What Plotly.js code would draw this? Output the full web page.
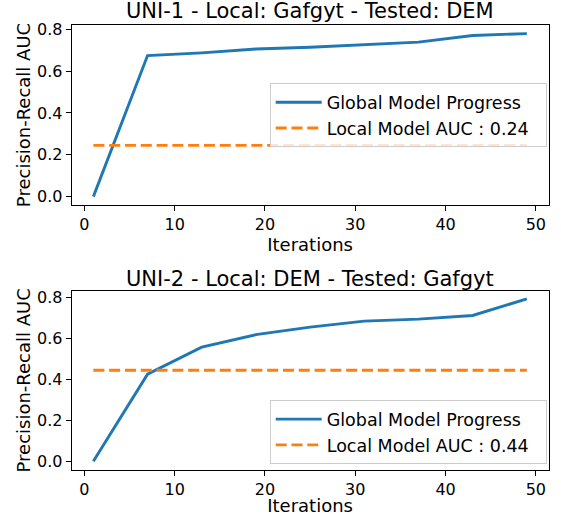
<!DOCTYPE html>
<html>
<head>
<meta charset="utf-8">
<script src="https://cdn.plot.ly/plotly-3.0.1.min.js"></script>
<style>html,body{margin:0;padding:0;background:#fff;}#chart{width:561px;height:516px;}</style>
</head>
<body>
<div id="chart"></div>
<script>
const iterations = [1, 7, 13, 19, 25, 31, 37, 43, 49];
const uni1Global = [0.0, 0.674, 0.687, 0.705, 0.714, 0.725, 0.738, 0.770, 0.779];
const uni2Global = [0.0, 0.426, 0.558, 0.619, 0.656, 0.685, 0.695, 0.713, 0.794];
const uni1Local = 0.245;
const uni2Local = 0.445;
const uni1LocalLabel = "Local Model AUC : 0.24";
const uni2LocalLabel = "Local Model AUC : 0.44";
const globalLabel = "Global Model Progress";
const titles = ["UNI-1 - Local: Gafgyt - Tested: DEM", "UNI-2 - Local: DEM - Tested: Gafgyt"];
const xTitle = "Iterations";
const yTitle = "Precision-Recall AUC";

const W = 561, H = 516;
const FONT = "DejaVu Sans, sans-serif";
const blue = "#1f77b4", orange = "#ff7f0e";
const PAD = "\u00a0\u00a0";

const first = iterations[0], last = iterations[iterations.length - 1];

const traces = [
  {x: iterations, y: uni1Global, xaxis: "x", yaxis: "y", mode: "lines", name: globalLabel + PAD,
   line: {color: blue, width: 2.9}, legend: "legend"},
  {x: [first, last], y: [uni1Local, uni1Local], xaxis: "x", yaxis: "y", mode: "lines", name: uni1LocalLabel + PAD,
   line: {color: orange, width: 2.9, dash: "11px,4.8px"}, legend: "legend"},
  {x: iterations, y: uni2Global, xaxis: "x2", yaxis: "y2", mode: "lines", name: globalLabel + PAD,
   line: {color: blue, width: 2.9}, legend: "legend2"},
  {x: [first, last], y: [uni2Local, uni2Local], xaxis: "x2", yaxis: "y2", mode: "lines", name: uni2LocalLabel + PAD,
   line: {color: orange, width: 2.9, dash: "11px,4.8px"}, legend: "legend2"}
];

function xax(anchor) {
  return {
    domain: [71.7 / W, 548.5 / W], anchor: anchor, range: [-1.4, 51.4],
    tickvals: [0, 10, 20, 30, 40, 50], ticks: "outside", ticklen: 5, tickwidth: 1, tickcolor: "#000",
    showline: true, linecolor: "#000", linewidth: 1, mirror: true, showgrid: false, zeroline: false,
    tickfont: {family: FONT, size: 16, color: "#000"},
    title: {text: xTitle, font: {family: FONT, size: 18, color: "#000"}, standoff: 2},
    automargin: false
  };
}
function yax(domain, anchor, range) {
  return {
    domain: domain, anchor: anchor, range: range,
    tickvals: [0, 0.2, 0.4, 0.6, 0.8], tickformat: ".1f", ticks: "outside", ticklen: 5, tickwidth: 1, tickcolor: "#000",
    showline: true, linecolor: "#000", linewidth: 1, mirror: true, showgrid: false, zeroline: false,
    tickfont: {family: FONT, size: 16, color: "#000"},
    title: {text: yTitle, font: {family: FONT, size: 18, color: "#000"}, standoff: 1},
    automargin: false
  };
}

const legendCommon = {
  xref: "paper", yref: "paper", xanchor: "right", x: 546.7 / W, yanchor: "middle",
  bgcolor: "rgba(255,255,255,0.8)", bordercolor: "#cccccc", borderwidth: 1,
  font: {family: FONT, size: 17.5, color: "#000"}, itemwidth: 46, tracegroupgap: 0
};

const layout = {
  width: W, height: H,
  margin: {l: 0, r: 0, t: 0, b: 0},
  paper_bgcolor: "#fff", plot_bgcolor: "#fff",
  font: {family: FONT, color: "#000"},
  showlegend: true,
  xaxis: xax("y"),
  yaxis: yax([(H - 205) / H, (H - 25) / H], "x", [-0.04, 0.82]),
  xaxis2: xax("y2"),
  yaxis2: yax([(H - 470) / H, (H - 290.7) / H], "x2", [-0.043, 0.834]),
  legend: Object.assign({}, legendCommon, {y: (H - 115.4) / H}),
  legend2: Object.assign({}, legendCommon, {y: (H - 432.2) / H}),
  annotations: [
    {text: titles[0], xref: "paper", yref: "paper", x: 310 / W, y: (H - 25) / H, xanchor: "center", yanchor: "bottom",
     showarrow: false, font: {family: FONT, size: 21, color: "#000"}},
    {text: titles[1], xref: "paper", yref: "paper", x: 310 / W, y: (H - 290.7) / H, xanchor: "center", yanchor: "bottom",
     showarrow: false, font: {family: FONT, size: 21, color: "#000"}, yshift: -2}
  ]
};

Plotly.newPlot("chart", traces, layout, {displayModeBar: false, staticPlot: true});
</script>
</body>
</html>
